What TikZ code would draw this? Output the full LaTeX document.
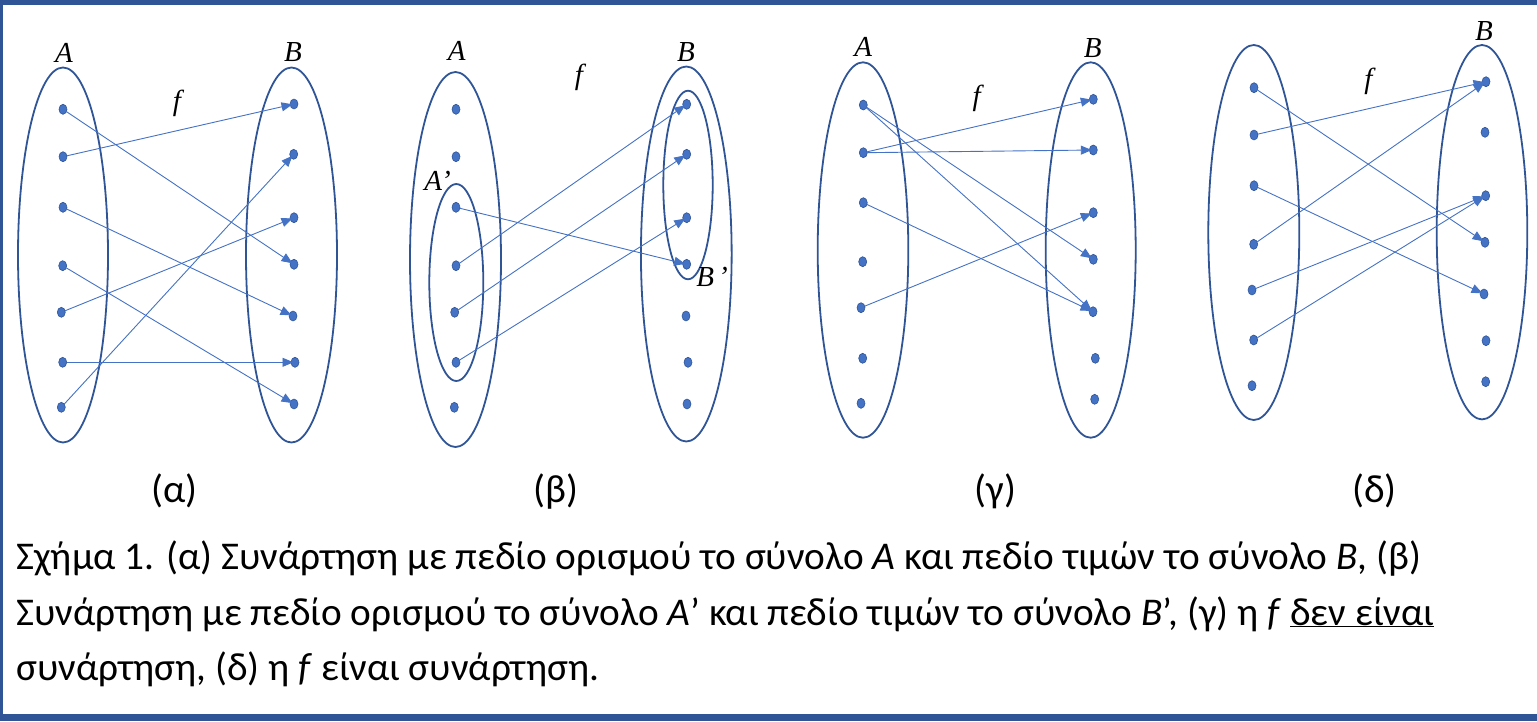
\documentclass[tikz,border=0pt]{standalone}
\usepackage{fontspec}
\setmainfont{Carlito}
\newfontfamily\labfam{Liberation Serif}
\usetikzlibrary{shapes.geometric,arrows.meta}
\definecolor{frameblue}{HTML}{2F5597}
\definecolor{setblue}{HTML}{2F5597}
\definecolor{arrowblue}{HTML}{4472C4}
\newcommand\labfont{\labfam\itshape\fontsize{29}{31}\selectfont}
\newcommand\capfont{\fontsize{39.3}{44}\selectfont}
\tikzset{
  setell/.style={ellipse, draw=setblue, line width=1.8pt, inner sep=0pt, outer sep=0pt},
  elem/.style={ellipse, fill=arrowblue, draw=setblue, line width=0.6pt, minimum width=8pt, minimum height=10pt, inner sep=0pt, outer sep=0pt},
  mapar/.style={draw=arrowblue, line width=0.9pt, -{Triangle[length=11pt,width=9pt]}, shorten >=-2.5pt},
  lab/.style={font=\labfont, inner sep=0pt},
  sublab/.style={font=\capfont, anchor=base, inner sep=0pt},
  capline/.style={font=\capfont, anchor=base west, inner sep=0pt},
}
\begin{document}
\begin{tikzpicture}[x=1pt,y=-1pt]
\useasboundingbox (0,0) rectangle (1537,721);
% frame
\fill[frameblue] (0,0) rectangle (1537,5);
\fill[frameblue] (0,0) rectangle (2.5,721);
\fill[frameblue] (0,714) rectangle (1537,721);

% ---------- (alpha)
\node[setell, minimum width=90pt, minimum height=375pt] (e1A) at (63,255) {};
\node[setell, minimum width=91pt, minimum height=375pt] (e1B) at (291.5,255) {};
\foreach \n/\x/\y in {1/63/109.3, 2/63/156.7, 3/63/207.3, 4/62.7/265.7, 5/61.3/312.3, 6/62.7/362.3, 7/61.3/407.3}
  \node[elem] (aA\n) at (\x,\y) {};
\foreach \n/\x/\y in {1/294/104, 2/293.7/154.3, 3/294/217.7, 4/294/264.3, 5/293/316, 6/295/362.3, 7/294/404}
  \node[elem] (aB\n) at (\x,\y) {};
\node[lab] (l1A) at (64,52.5) {A};
\node[lab] (l1B) at (293,52.5) {B};
\node[lab] (l1f) at (177,103) {f};
\draw[mapar] (aA1) -- (aB4);
\draw[mapar] (aA2) -- (aB1);
\draw[mapar] (aA3) -- (aB5);
\draw[mapar] (aA4) -- (aB7);
\draw[mapar] (aA5) -- (aB3);
\draw[mapar] (aA6) -- (aB6);
\draw[mapar] (aA7) -- (aB2);

% ---------- (beta)
\node[setell, minimum width=91pt, minimum height=375pt] (e2A) at (455.5,259.5) {};
\node[setell, minimum width=54pt, minimum height=197pt] (e2Ap) at (456.3,282.5) {};
\node[setell, minimum width=90.7pt, minimum height=375pt] (e2B) at (686.3,254) {};
\node[setell, minimum width=49.4pt, minimum height=188.6pt] (e2Bp) at (688,185) {};
\foreach \n/\x/\y in {1/456/109.3, 2/456/156.7, 3/456/207.3, 4/456/265.7, 5/454.7/312.3, 6/456/362.3, 7/454.3/407.3}
  \node[elem] (bA\n) at (\x,\y) {};
\foreach \n/\x/\y in {1/686.7/104.3, 2/686.7/154.3, 3/686.7/217.7, 4/686.7/264.3, 5/686/316, 6/688/362.3, 7/687/404}
  \node[elem] (bB\n) at (\x,\y) {};
\node[lab] (l2A) at (456.7,50.7) {A};
\node[lab] (l2B) at (686,52) {B};
\node[lab] (l2f) at (579,77) {f};
\node[lab] (l2Ap) at (437.5,181) {A’};
\node[lab] (l2Bp) at (712,276.5) {B\kern4pt’};
\draw[mapar] (bA4) -- (bB1);
\draw[mapar] (bA5) -- (bB2);
\draw[mapar] (bA6) -- (bB3);
\draw[mapar] (bA3) -- (bB4);

% ---------- (gamma)
\node[setell, minimum width=90.6pt, minimum height=375.4pt] (e3A) at (863,250) {};
\node[setell, minimum width=90pt, minimum height=375.4pt] (e3B) at (1090.7,250) {};
\foreach \n/\x/\y in {1/863.3/105, 2/863.3/152.7, 3/863.3/202.7, 4/862.7/261.7, 5/861/307.7, 6/862.7/358.3, 7/861/403.3}
  \node[elem] (cA\n) at (\x,\y) {};
\foreach \n/\x/\y in {1/1093.3/99.3, 2/1093.3/150, 3/1093.3/212.7, 4/1093.3/259.3, 5/1093/311.7, 6/1095.3/358.3, 7/1094.7/399.3}
  \node[elem] (cB\n) at (\x,\y) {};
\node[lab] (l3A) at (863.3,46.7) {A};
\node[lab] (l3B) at (1092.7,48.3) {B};
\node[lab] (l3f) at (976.7,98.3) {f};
\draw[mapar] (cA1) -- (cB4);
\draw[mapar] (cA1) -- (cB5);
\draw[mapar] (cA2) -- (cB1);
\draw[mapar] (cA2) -- (cB2);
\draw[mapar] (cA3) -- (cB5);
\draw[mapar] (cA5) -- (cB3);

% ---------- (delta)
\node[setell, minimum width=91pt, minimum height=375pt] (e4A) at (1253.8,232.5) {};
\node[setell, minimum width=90.6pt, minimum height=374.4pt] (e4B) at (1482,232.2) {};
\foreach \n/\x/\y in {1/1254/87.7, 2/1254/135, 3/1254/185.7, 4/1253.7/244.3, 5/1252/290, 6/1253.7/340, 7/1252/385.7}
  \node[elem] (dA\n) at (\x,\y) {};
\foreach \n/\x/\y in {1/1486/81.7, 2/1485/132.3, 3/1485.7/195.7, 4/1485/242.3, 5/1484/294, 6/1486/340.7, 7/1485.7/381.7}
  \node[elem] (dB\n) at (\x,\y) {};
\node[lab] (l4B) at (1484,30.7) {B};
\node[lab] (l4f) at (1368.3,81.7) {f};
\draw[mapar] (dA1) -- (dB4);
\draw[mapar] (dA2) -- (dB1);
\draw[mapar] (dA3) -- (dB5);
\draw[mapar] (dA4) -- (dB1);
\draw[mapar] (dA5) -- (dB3);
\draw[mapar] (dA6) -- (dB3);

% ---------- sub labels
\node[sublab] (s1) at (174.5,502) {(α)};
\node[sublab] (s2) at (556,502) {(β)};
\node[sublab] (s3) at (995.5,502) {(γ)};
\node[sublab] (s4) at (1374.5,502) {(δ)};

% ---------- caption
\node[capline] (c1) at (16,569) {Σχήμα 1. (α) Συνάρτηση με πεδίο ορισμού το σύνολο \textit{A} και πεδίο τιμών το σύνολο \textit{B}, (β)};
\node[capline] (c2) at (16,625) {Συνάρτηση με πεδίο ορισμού το σύνολο \textit{A}’ και πεδίο τιμών το σύνολο \textit{B}’, (γ) η \textit{f} \underline{δεν είναι}};
\node[capline] (c3) at (16,680) {συνάρτηση, (δ) η \textit{f} είναι συνάρτηση.};
\end{tikzpicture}
\end{document}
